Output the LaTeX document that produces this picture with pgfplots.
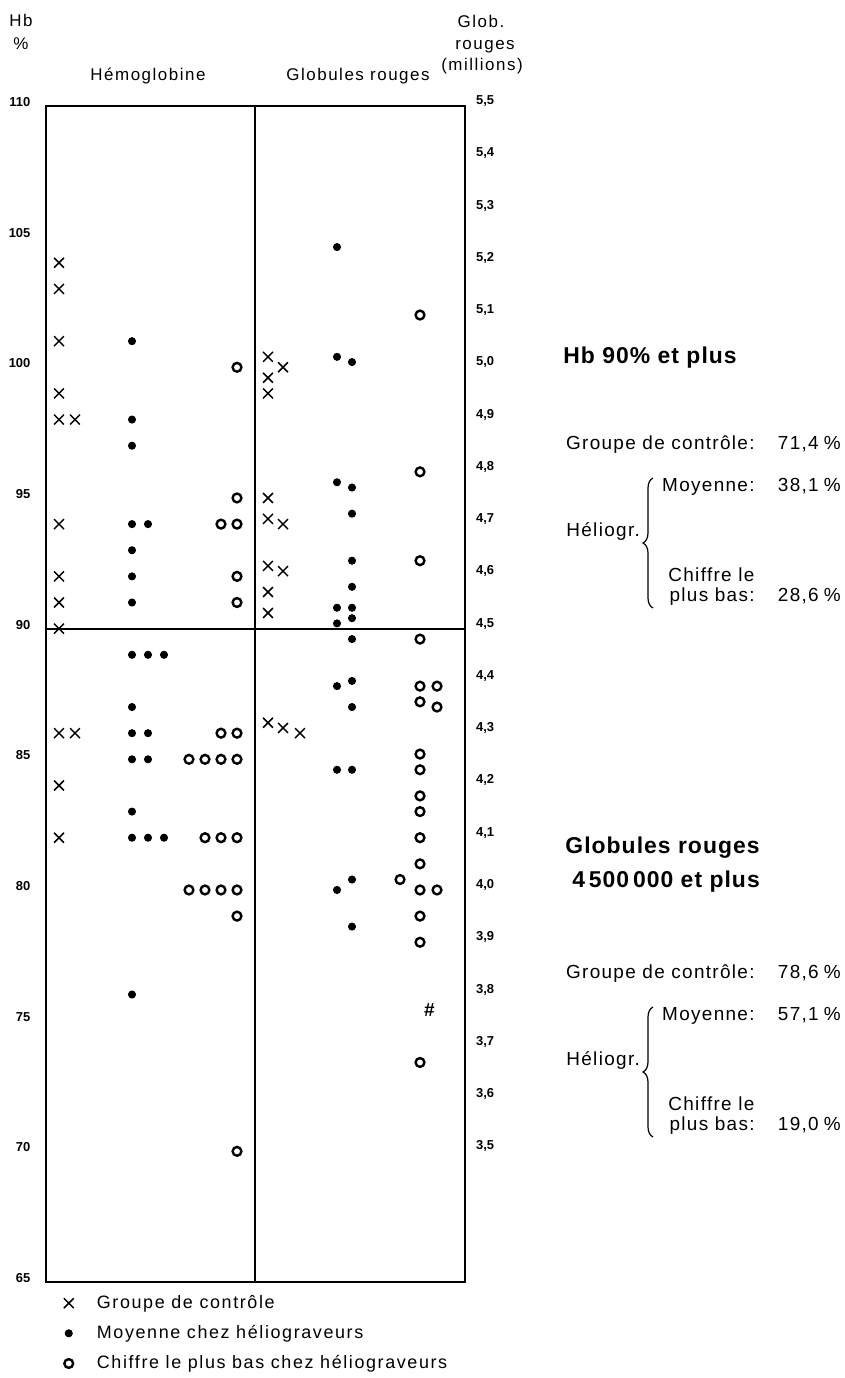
\documentclass[border=0pt]{standalone}
\usepackage{fontspec}
\setmainfont{Liberation Sans}
\newfontfamily\spfont[LetterSpace=9]{Liberation Sans}
\newfontfamily\rtfont[LetterSpace=7]{Liberation Sans}
\newfontfamily\tifont[LetterSpace=4.5]{Liberation Sans}
\usepackage{pgfplots}
\usepackage{pgfplotstable}
\pgfplotsset{compat=1.18}
\usetikzlibrary{decorations.pathreplacing,plotmarks}

\newcommand\txtfont{\fontsize{9}{11}\selectfont\spfont}
\newcommand\rfont{\fontsize{9.5}{11}\selectfont\rtfont}
\newcommand\hdfont{\fontsize{8.5}{10}\selectfont\spfont}
\newcommand\titfont{\fontsize{11.5}{13}\selectfont\tifont\bfseries}
\newcommand\tickfont{\fontsize{6.5}{7}\selectfont\bfseries}
\newcommand\hashmark{\fontsize{9.5}{9.5}\selectfont\bfseries\itshape\#}
\newcommand\pc{\hspace{2.5bp}\%}

\pgfplotsset{
  markleg/.style={legend image code/.code={\draw[##1] plot coordinates {(0bp,0bp)};}},
  ctrl/.style={only marks, mark=x, mark size=3.5bp, mark options={line width=0.75bp, draw=black}},
  moy/.style={only marks, mark=*, mark size=1.8bp, mark options={draw=black, fill=black}},
  bas/.style={only marks, mark=o, mark size=2.2bp, mark options={line width=1.2bp, draw=black}},
}

% Hemoglobine panel (x = position in px from left frame, y = Hb %)
\pgfplotstableread{
x y
13 104
13 103
13 101
13 99
13 98
29 98
13 94
13 92
13 91
13 90
13 86
29 86
13 84
13 82
}\hbctrl
\pgfplotstableread{
x y
86 101
86 98
86 97
86 94
102 94
86 93
86 92
86 91
86 89
102 89
118 89
86 87
86 86
102 86
86 85
102 85
86 83
86 82
102 82
118 82
86 76
}\hbmoy
\pgfplotstableread{
x y
191 100
191 95
175 94
191 94
191 92
191 91
175 86
191 86
143 85
159 85
175 85
191 85
159 82
175 82
191 82
143 80
159 80
175 80
191 80
191 79
191 70
}\hbbas

% Globules rouges panel (y = millions)
\pgfplotstableread{
x y
222 5.02
237 5.00
222 4.98
222 4.95
222 4.75
222 4.71
237 4.70
222 4.62
237 4.61
222 4.57
222 4.53
222 4.32
237 4.31
254 4.30
}\grctrl
\pgfplotstableread{
x y
291 5.23
291 5.02
306 5.01
291 4.78
306 4.77
306 4.72
306 4.63
306 4.58
291 4.54
306 4.54
291 4.51
306 4.52
306 4.48
291 4.39
306 4.40
306 4.35
291 4.23
306 4.23
306 4.02
291 4.00
306 3.93
}\grmoy
\pgfplotstableread{
x y
374 5.10
374 4.80
374 4.63
374 4.48
374 4.39
391 4.39
374 4.36
391 4.35
374 4.26
374 4.23
374 4.18
374 4.15
374 4.10
374 4.05
354 4.02
374 4.00
391 4.00
374 3.95
374 3.90
374 3.67
}\grbas

\begin{document}
\begin{tikzpicture}[x=0.5bp,y=0.5bp]
\useasboundingbox (-46,-96) rectangle (798,1282);

\begin{axis}[
  at={(0,0)}, anchor=south west,
  scale only axis, width=209.5bp, height=588bp,
  xmin=0, xmax=419, ymin=65, ymax=110,
  xtick=\empty, ytick={65,70,...,110},
  ytick pos=left, yticklabel pos=left,
  major tick length=0pt,
  axis line style={line width=0.9bp, black},
  tick label style={font=\tickfont},
  yticklabel style={xshift=-4.3bp, yshift=2bp},
  /pgf/number format/assume math mode=true,
  clip=false,
  legend style={draw=none, fill=none, inner sep=0pt, outer sep=0pt,
    at={(0.0425,-0.0112)}, anchor=north west, font=\txtfont,
    row sep=7.0bp, nodes={inner sep=0pt},
    /tikz/every odd column/.append style={column sep=11.6bp}},
  legend cell align=left,
]
\addplot[ctrl, markleg] table {\hbctrl};
\addlegendentry{Groupe de contrôle}
\addplot[moy, markleg] table {\hbmoy};
\addlegendentry{Moyenne chez héliograveurs}
\addplot[bas, markleg] table {\hbbas};
\addlegendentry{Chiffre le plus bas chez héliograveurs}
\draw[line width=0.9bp] (axis cs:209,65) -- (axis cs:209,110);
\draw[line width=0.9bp] (axis cs:0,90) -- (axis cs:419,90);
\end{axis}

\begin{axis}[
  at={(0,0)}, anchor=south west,
  scale only axis, width=209.5bp, height=588bp,
  xmin=0, xmax=419, ymin=3.25, ymax=5.5,
  xtick=\empty,
  ytick={3.5,3.6,3.7,3.8,3.9,4.0,4.1,4.2,4.3,4.4,4.5,4.6,4.7,4.8,4.9,5.0,5.1,5.2,5.3,5.4,5.5},
  ytick pos=right, yticklabel pos=right,
  major tick length=0pt,
  axis line style={line width=0.9bp, black},
  tick label style={font=\tickfont},
  yticklabel style={xshift=2bp, yshift=2.5bp,
    /pgf/number format/.cd, fixed, fixed zerofill, precision=1, use comma, assume math mode=true},
  clip=false,
]
\addplot[ctrl] table {\grctrl};
\addplot[moy] table {\grmoy};
\addplot[bas] table {\grbas};
\addplot[only marks, mark=text, text mark={\hashmark}] coordinates {(383,3.77)};
\end{axis}

\begin{scope}[shift={(-46,1282)}]
% headers
\node[font=\hdfont, anchor=base] at (21,-27) {Hb};
\node[font=\hdfont, anchor=base] at (21,-50) {\%};
\node[font=\hdfont, anchor=base] at (148,-81) {Hémoglobine};
\node[font=\hdfont, anchor=base] at (358,-81) {Globules rouges};
\node[font=\hdfont, anchor=base] at (481,-28) {Glob.};
\node[font=\hdfont, anchor=base] at (485,-50) {rouges};
\node[font=\hdfont, anchor=base] at (482,-71) {(millions)};

% block 1
\node[font=\titfont, anchor=base west, inner sep=0pt] at (563,-364) {Hb 90\% et plus};
\node[font=\rfont, anchor=base east, inner sep=0pt] at (755,-450) {Groupe de contrôle:};
\node[font=\rfont, anchor=base east, inner sep=0pt] at (841,-450) {71,4\pc};
\node[font=\rfont, anchor=base east, inner sep=0pt] at (755,-492) {Moyenne:};
\node[font=\rfont, anchor=base east, inner sep=0pt] at (841,-492) {38,1\pc};
\node[font=\rfont, anchor=base west, inner sep=0pt] at (566,-537) {Héliogr.};
\node[font=\rfont, anchor=base west, inner sep=0pt] at (668,-582) {Chiffre le};
\node[font=\rfont, anchor=base east, inner sep=0pt] at (755,-602) {plus bas:};
\node[font=\rfont, anchor=base east, inner sep=0pt] at (841,-602) {28,6\pc};
\draw[decorate, decoration={brace, amplitude=5bp}, line width=0.6bp] (653,-608) -- (653,-478);

% block 2
\node[font=\titfont, anchor=base west, inner sep=0pt] at (565,-854) {Globules rouges};
\node[font=\titfont, anchor=base west, inner sep=0pt] at (572,-888) {4\,500\,000 et plus};
\node[font=\rfont, anchor=base east, inner sep=0pt] at (755,-979) {Groupe de contrôle:};
\node[font=\rfont, anchor=base east, inner sep=0pt] at (841,-979) {78,6\pc};
\node[font=\rfont, anchor=base east, inner sep=0pt] at (755,-1021) {Moyenne:};
\node[font=\rfont, anchor=base east, inner sep=0pt] at (841,-1021) {57,1\pc};
\node[font=\rfont, anchor=base west, inner sep=0pt] at (566,-1066) {Héliogr.};
\node[font=\rfont, anchor=base west, inner sep=0pt] at (668,-1111) {Chiffre le};
\node[font=\rfont, anchor=base east, inner sep=0pt] at (755,-1131) {plus bas:};
\node[font=\rfont, anchor=base east, inner sep=0pt] at (841,-1131) {19,0\pc};
\draw[decorate, decoration={brace, amplitude=5bp}, line width=0.6bp] (653,-1137) -- (653,-1007);
\end{scope}
\end{tikzpicture}
\end{document}
